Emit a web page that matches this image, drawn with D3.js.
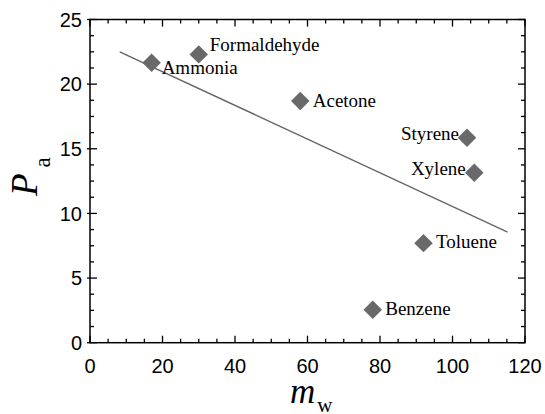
<!DOCTYPE html>
<html>
<head>
<meta charset="utf-8">
<script src="https://cdn.jsdelivr.net/npm/d3@7"></script>
<style>
  body { margin: 0; background: #fff; }
  .tick-lbl { font-family: "Liberation Sans", Arial, sans-serif; font-size: 20px; fill: #000; }
  .pt-lbl { font-family: "Liberation Serif", "Times New Roman", serif; font-size: 19px; fill: #000; }
  .ax-title { font-family: "Liberation Serif", "Times New Roman", serif; fill: #000; }
</style>
</head>
<body>
<svg id="chart" width="545" height="414"></svg>
<script>
// ── Data: molecular weight (m_w) vs P_a ───────────────────────────────────
const compounds = ["Ammonia", "Formaldehyde", "Acetone", "Styrene", "Xylene", "Toluene", "Benzene"];
const mw        = [17, 30, 58, 104, 106, 92, 78];
const pa        = [21.65, 22.3, 18.7, 15.85, 13.15, 7.7, 2.55];

// fitted trend line, endpoints
const fitX = [8.2, 115.2];
const fitY = [22.5, 8.55];

const xTicks = [0, 20, 40, 60, 80, 100, 120];
const yTicks = [0, 5, 10, 15, 20, 25];

// ── Layout ────────────────────────────────────────────────────────────────
const VW = 545, VH = 414;
const M  = { top: 19.5, right: 20, bottom: 71.3, left: 90 };
const W  = VW - M.left - M.right;
const H  = VH - M.top - M.bottom;

const svg = d3.select("#chart");
const g   = svg.append("g").attr("transform", `translate(${M.left},${M.top})`);

const x = d3.scaleLinear().domain([0, 120]).range([0, W]);
const y = d3.scaleLinear().domain([0, 25]).range([H, 0]);

const xMinor = d3.range(0, 120.01, 5);
const yMinor = d3.range(0, 25.01, 1.25);

// frame
g.append("rect")
  .attr("width", W).attr("height", H)
  .attr("fill", "none").attr("stroke", "#000").attr("stroke-width", 1.5);

// ticks on all four sides, pointing inward
const tickG = g.append("g").attr("stroke", "#000").attr("stroke-width", 1.3);
const isMajorX = v => Math.abs(v % 20) < 1e-6;
const isMajorY = v => Math.abs(v % 5) < 1e-6;

xMinor.forEach(v => {
  const len = isMajorX(v) ? 7 : 4;
  tickG.append("line").attr("x1", x(v)).attr("x2", x(v)).attr("y1", H).attr("y2", H - len);
  tickG.append("line").attr("x1", x(v)).attr("x2", x(v)).attr("y1", 0).attr("y2", len);
});
yMinor.forEach(v => {
  const len = isMajorY(v) ? 7 : 4;
  tickG.append("line").attr("x1", isMajorY(v) ? -3 : 0).attr("x2", len).attr("y1", y(v)).attr("y2", y(v));
  tickG.append("line").attr("x1", W).attr("x2", W - len).attr("y1", y(v)).attr("y2", y(v));
});

// tick labels
g.append("g").selectAll("text")
  .data(xTicks).join("text").attr("class", "tick-lbl")
  .attr("x", d => x(d)).attr("y", H + 30)
  .attr("text-anchor", "middle").text(d => d);
g.append("g").selectAll("text")
  .data(yTicks).join("text").attr("class", "tick-lbl")
  .attr("x", -8).attr("y", d => y(d)).attr("dy", "0.36em")
  .attr("text-anchor", "end").text(d => d);

// axis titles
const xt = svg.append("text").attr("class", "ax-title")
  .attr("x", 290).attr("y", 403);
xt.append("tspan").attr("font-style", "italic").attr("font-size", "35px").text("m");
xt.append("tspan").attr("font-size", "21px").attr("dy", 9).attr("dx", 2).text("w");

const yt = svg.append("text").attr("class", "ax-title")
  .attr("transform", "translate(37,196) rotate(-90)");
yt.append("tspan").attr("font-style", "italic").attr("font-size", "37px").text("P");
yt.append("tspan").attr("font-size", "23px").attr("dy", 13).attr("dx", 6).text("a");

// trend line
g.append("line")
  .attr("x1", x(fitX[0])).attr("y1", y(fitY[0]))
  .attr("x2", x(fitX[1])).attr("y2", y(fitY[1]))
  .attr("stroke", "#666").attr("stroke-width", 1.5);

// points
const pts = compounds.map((c, i) => ({ name: c, mw: mw[i], pa: pa[i] }));
const diamond = d3.symbol().type(d3.symbolSquare).size(170);
g.append("g").selectAll("path")
  .data(pts).join("path")
  .attr("d", diamond)
  .attr("transform", d => `translate(${x(d.mw)},${y(d.pa)}) rotate(45)`)
  .attr("fill", "#696969");

// point labels (offsets from the marker, in px)
const labelPlace = {
  Ammonia:      { dx: 10,   dy: 11.5, anchor: "start" },
  Formaldehyde: { dx: 11,   dy: -3.5, anchor: "start" },
  Acetone:      { dx: 12.5, dy: 6.3,  anchor: "start" },
  Styrene:      { dx: -8,   dy: 2.5,  anchor: "end" },
  Xylene:       { dx: -8.5, dy: 2.5,  anchor: "end" },
  Toluene:      { dx: 12.5, dy: 5,    anchor: "start" },
  Benzene:      { dx: 12.5, dy: 5.7,  anchor: "start" }
};
g.append("g").selectAll("text")
  .data(pts).join("text").attr("class", "pt-lbl")
  .attr("x", d => x(d.mw) + labelPlace[d.name].dx)
  .attr("y", d => y(d.pa) + labelPlace[d.name].dy)
  .attr("text-anchor", d => labelPlace[d.name].anchor)
  .text(d => d.name);
</script>
</body>
</html>
